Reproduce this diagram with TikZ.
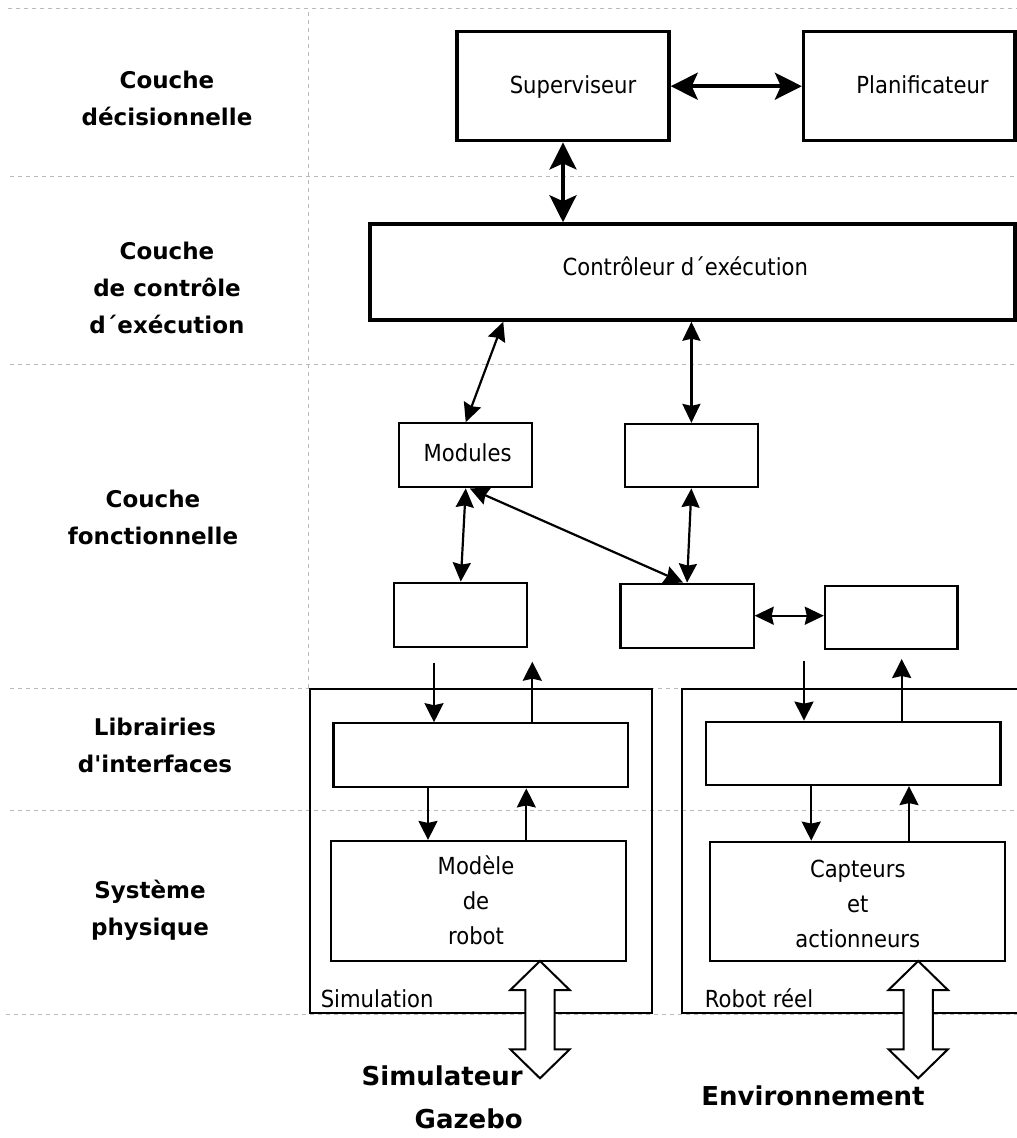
\documentclass[tikz,border=0pt]{standalone}
\usepackage{fontspec}
\usetikzlibrary{arrows.meta,calc}
\newfontfamily\dvs{DejaVu Sans}
\newfontfamily\dvscond{DejaVu Sans}[FakeStretch=0.9]

\tikzset{
  guide/.style={gray!55, line width=1pt, dash pattern=on 4pt off 4pt},
  bigbox/.style={draw, fill=white, line width=3.5pt, inner sep=0pt},
  fnbox/.style={draw, fill=white, line width=2.2pt, inner sep=0pt},
  frame/.style={draw, line width=2pt, inner sep=0pt},
  boxtext/.style={font={\dvscond\fontsize{23.5}{34.7}\selectfont}, align=center, inner sep=0pt, anchor=base},
  layer/.style={font={\dvs\bfseries\fontsize{23}{37}\selectfont}, align=center, inner sep=0pt, anchor=base},
  bigtext/.style={font={\dvs\bfseries\fontsize{26}{43}\selectfont}, inner sep=0pt},
  thickarr/.style={line width=3.5pt,
    {Stealth[length=27pt,width=27pt,inset=6pt]}-{Stealth[length=27pt,width=27pt,inset=6pt]}},
  thinarr/.style={line width=2.2pt,
    {Stealth[length=19pt,width=18pt,inset=2pt]}-{Stealth[length=19pt,width=18pt,inset=2pt]}},
  onearr/.style={line width=2.2pt, -{Stealth[length=19pt,width=19pt,inset=2pt]}},
  hollow/.style={draw, fill=white, line width=2pt, line join=miter},
}

\begin{document}
\begin{tikzpicture}[x=1pt, y=-1pt]
\useasboundingbox (0,0) rectangle (1017,1138);
\clip (0,0) rectangle (1017,1138);

% layer separators
\draw[guide] (8,8.3) -- (1017,8.3);
\draw[guide] (10,176) -- (1017,176);
\draw[guide] (10,364) -- (1017,364);
\draw[guide] (10,688) -- (1017,688);
\draw[guide] (10,810) -- (1017,810);
\draw[guide] (6,1014) -- (1017,1014);
\draw[guide] (308,12) -- (308,688);

% layer names (anchored on the baseline of their last line)
\node[layer] (l1) at (167,125) {Couche\\décisionnelle};
\node[layer] (l2) at (167,333) {Couche\\de contrôle\\d´exécution};
\node[layer] (l3) at (153,544) {Couche\\fonctionnelle};
\node[layer] (l4) at (155,772) {Librairies\\d'interfaces};
\node[layer] (l5) at (150,935) {Système\\physique};

% decision and execution control layers
\node[bigbox, minimum width=212pt, minimum height=109pt] (sup) at (563,86.2) {};
\node[bigbox, minimum width=211.4pt, minimum height=109pt] (plan) at (909.3,86.2) {};
\node[bigbox, minimum width=645pt, minimum height=96pt] (ctrl) at (692.5,272) {};
\node[boxtext] (sup-t) at (573,93.3) {Superviseur};
\node[boxtext] (plan-t) at (922.5,93.3) {Planificateur};
\node[boxtext] (ctrl-t) at (685.3,275.7) {Contrôleur d´exécution};

% functional layer
\node[fnbox, minimum width=133.1pt, minimum height=64pt] (mod) at (465.75,455.3) {};
\node[fnbox, minimum width=132.6pt, minimum height=63.3pt] (fn2) at (691.4,455.65) {};
\node[fnbox, minimum width=133.1pt, minimum height=64pt] (fn3) at (460.75,614.7) {};
\node[fnbox, minimum width=133.1pt, minimum height=64pt] (fn4) at (687.05,615.7) {};
\node[fnbox, minimum width=132.6pt, minimum height=63pt] (fn5) at (891.2,617.2) {};
\node[boxtext] (mod-t) at (467.6,461) {Modules};

% simulation and real robot
\node[frame, minimum width=341.6pt, minimum height=324.3pt] (simframe) at (480.8,851.15) {};
\node[frame, minimum width=348.2pt, minimum height=324pt] (robframe) at (855.9,851.3) {};
\node[fnbox, minimum width=294.9pt, minimum height=64pt] (simif) at (480.85,755.3) {};
\node[fnbox, minimum width=294.9pt, minimum height=120pt] (simmod) at (478.55,901) {};
\node[fnbox, minimum width=294.9pt, minimum height=63.3pt] (robif) at (853.05,753.35) {};
\node[fnbox, minimum width=294.4pt, minimum height=119.3pt] (robcap) at (857.4,901.35) {};
\node[boxtext] (simmod-t) at (476,944.3) {Modèle\\de\\robot};
\node[boxtext] (robcap-t) at (857.8,947.3) {Capteurs\\et\\actionneurs};
\node[boxtext, anchor=base west] (sim-t) at (320.6,1007) {Simulation};
\node[boxtext, anchor=base west] (rob-t) at (704.7,1007) {Robot réel};

% connectors
\draw[thickarr] (sup.east) -- (plan.west);
\draw[thickarr] (sup.south) -- (sup.south |- ctrl.north);
\coordinate (c1) at ($(ctrl.south -| mod.north)+(37.5,0)$);
\draw[thinarr] (c1) -- (mod.north);
\draw[thinarr] (fn2.north |- ctrl.south) -- (fn2.north);
\draw[thinarr] (mod.south) -- (fn3.north);
\draw[thinarr] ($(mod.south)+(4,0)$) -- ($(fn4.north)+(-4,0)$);
\draw[thinarr] (fn2.south) -- (fn4.north);
\draw[thinarr] (fn4.east) -- (fn4.east -| fn5.west);

\coordinate (s1) at (434,662.7);
\coordinate (s2) at (532.3,661.7);
\coordinate (r1) at (804,660.7);
\coordinate (r2) at (901.7,659);
\draw[onearr] (s1) -- (s1 |- simif.north);
\draw[onearr] (s2 |- simif.north) -- (s2);
\draw[onearr] (r1) -- (r1 |- robif.north);
\draw[onearr] (r2 |- robif.north) -- (r2);

\coordinate (xa) at (428,0);
\coordinate (xb) at (526.3,0);
\coordinate (xc) at (811.2,0);
\coordinate (xd) at (909,0);
\draw[onearr] (xa |- simif.south) -- (xa |- simmod.north);
\draw[onearr] (xb |- simmod.north) -- (xb |- simif.south);
\draw[onearr] (xc |- robif.south) -- (xc |- robcap.north);
\draw[onearr] (xd |- robcap.north) -- (xd |- robif.south);

% exchanges with the outside world
\coordinate (gz) at (540,961);
\coordinate (env) at (918.2,961);
\draw[hollow] (gz) -- ++(29.7,29) -- ++(-15,0) -- ++(0,59.3) -- ++(15,0) -- ++(-29.7,29)
  -- ++(-29.7,-29) -- ++(15,0) -- ++(0,-59.3) -- ++(-15,0) -- cycle;
\draw[hollow] (env) -- ++(29.7,29) -- ++(-15,0) -- ++(0,59.3) -- ++(15,0) -- ++(-29.7,29)
  -- ++(-29.7,-29) -- ++(15,0) -- ++(0,-59.3) -- ++(-15,0) -- cycle;

\node[bigtext, align=right, anchor=base east] (gz-t) at (523,1128) {Simulateur\\Gazebo};
\node[bigtext, anchor=base] (env-t) at (813,1105) {Environnement};
\end{tikzpicture}
\end{document}
